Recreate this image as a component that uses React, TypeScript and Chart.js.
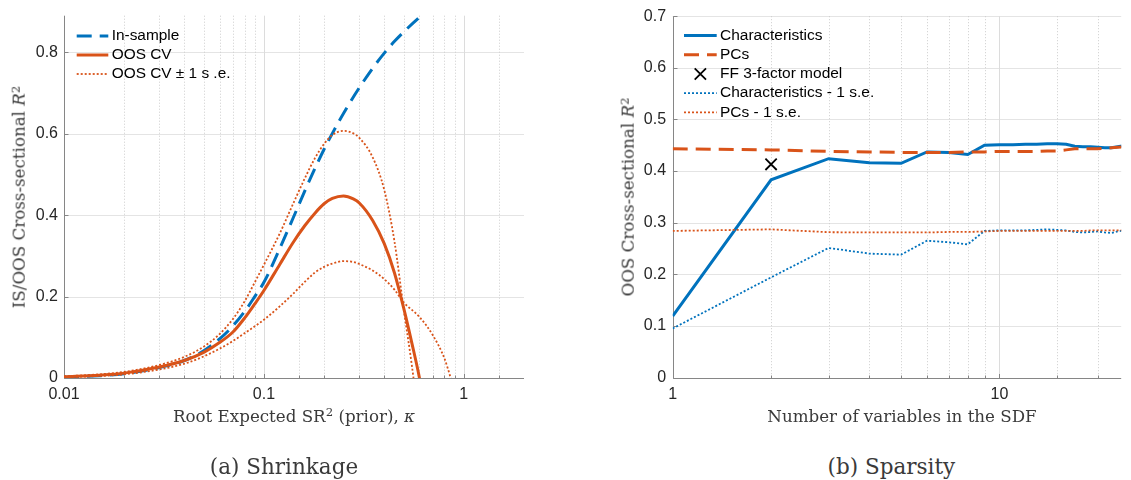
import React, { useEffect, useRef } from 'react';
import { Chart, registerables } from 'chart.js';

Chart.register(...registerables);

const BLUE = '#0072BD';
const ORANGE = '#D95319';

// ---- (a) Shrinkage: cross-sectional R² against the prior scale kappa ----
const inSampleKappa = [0.01, 0.015, 0.02, 0.03, 0.04, 0.05, 0.06, 0.07, 0.08, 0.09, 0.1, 0.12, 0.14, 0.16, 0.18, 0.2, 0.22, 0.25, 0.3, 0.35, 0.4, 0.45, 0.5, 0.6, 0.7, 0.8];
const inSampleR2 = [0.002, 0.0055, 0.0105, 0.0255, 0.043, 0.067, 0.096, 0.128, 0.163, 0.2, 0.235, 0.318, 0.393, 0.459, 0.515, 0.562, 0.601, 0.65, 0.713, 0.761, 0.798, 0.827, 0.85, 0.886, 0.913, 0.934];

const oosKappa = [0.01, 0.015, 0.02, 0.03, 0.04, 0.05, 0.06, 0.07, 0.08, 0.09, 0.1, 0.12, 0.14, 0.16, 0.18, 0.2, 0.22, 0.25, 0.28, 0.3, 0.35, 0.4, 0.45, 0.5, 0.55, 0.6, 0.65];
const oosR2 = [0.003, 0.007, 0.012, 0.027, 0.043, 0.063, 0.087, 0.113, 0.147, 0.182, 0.215, 0.279, 0.333, 0.374, 0.405, 0.428, 0.441, 0.447, 0.44, 0.43, 0.387, 0.33, 0.258, 0.172, 0.085, 0.0, -0.1];

const oosUpperKappa = [0.01, 0.015, 0.02, 0.03, 0.04, 0.05, 0.06, 0.07, 0.08, 0.09, 0.1, 0.12, 0.14, 0.16, 0.18, 0.2, 0.22, 0.25, 0.28, 0.3, 0.35, 0.4, 0.45, 0.5, 0.55, 0.6];
const oosUpperR2 = [0.004, 0.009, 0.015, 0.032, 0.052, 0.077, 0.108, 0.145, 0.188, 0.235, 0.278, 0.355, 0.428, 0.49, 0.54, 0.575, 0.597, 0.607, 0.601, 0.59, 0.542, 0.462, 0.335, 0.17, 0.03, -0.12];

const oosLowerKappa = [0.01, 0.015, 0.02, 0.03, 0.04, 0.05, 0.06, 0.07, 0.08, 0.09, 0.1, 0.12, 0.14, 0.16, 0.18, 0.2, 0.22, 0.25, 0.28, 0.3, 0.35, 0.4, 0.45, 0.5, 0.6, 0.7, 0.8, 0.86, 0.95];
const oosLowerR2 = [0.002, 0.005, 0.009, 0.021, 0.035, 0.053, 0.072, 0.091, 0.11, 0.127, 0.143, 0.176, 0.207, 0.236, 0.259, 0.273, 0.281, 0.287, 0.285, 0.28, 0.264, 0.243, 0.217, 0.186, 0.15, 0.105, 0.048, 0.0, -0.07];

const shrinkDecadeLabels = [0.01, 0.1, 1];

// ---- (b) Sparsity: OOS R² against the number of SDF variables ----
const numVars = [1, 2, 3, 4, 5, 6, 7, 8, 9, 10, 11, 12, 13, 14, 15, 16, 17, 18, 19, 20, 21, 22, 23, 24];
const charR2 = [0.119, 0.383, 0.424, 0.416, 0.415, 0.437, 0.436, 0.432, 0.45, 0.451, 0.451, 0.452, 0.452, 0.453, 0.453, 0.452, 0.448, 0.447, 0.447, 0.446, 0.445, 0.445, 0.447, 0.449];
const pcR2 = [0.443, 0.441, 0.438, 0.437, 0.436, 0.436, 0.436, 0.437, 0.437, 0.438, 0.438, 0.438, 0.438, 0.439, 0.439, 0.441, 0.443, 0.443, 0.443, 0.443, 0.444, 0.445, 0.446, 0.447];
const charLowerR2 = [0.095, 0.194, 0.251, 0.24, 0.238, 0.265, 0.262, 0.258, 0.284, 0.285, 0.285, 0.285, 0.286, 0.287, 0.286, 0.285, 0.282, 0.281, 0.282, 0.283, 0.281, 0.28, 0.283, 0.285];
const pcLowerR2 = [0.284, 0.287, 0.2815, 0.281, 0.281, 0.281, 0.282, 0.282, 0.283, 0.284, 0.284, 0.284, 0.284, 0.284, 0.284, 0.284, 0.284, 0.284, 0.285, 0.285, 0.285, 0.285, 0.285, 0.285];
const ffVars = [2];
const ffR2 = [0.413];

const sparsityDecadeLabels = [1, 10];

const pts = (xs: number[], ys: number[]) => xs.map((x, i) => ({ x, y: ys[i] }));
const isDecade = (v: number) => {
  const l = Math.log10(v);
  return Math.abs(l - Math.round(l)) < 1e-6;
};

const TICK_FONT = { family: '"Liberation Sans", Arial, Helvetica, sans-serif', size: 16 };
const NO_GRID = { display: false, drawTicks: false };

// MATLAB-style frame: light grid (dotted minor log grid), left/bottom axis lines, inward ticks
const axesFramePlugin = {
  id: 'axesFrame',
  beforeDatasetsDraw(chart: any) {
    const { ctx, chartArea: a } = chart;
    const xs = chart.scales.x;
    const ys = chart.scales.y;
    ctx.save();
    ctx.lineWidth = 1;
    ctx.strokeStyle = '#e4e4e4';
    for (const t of ys.ticks) {
      const y = Math.round(ys.getPixelForValue(t.value)) + 0.5;
      if (y >= a.bottom - 1 || y < a.top) continue;
      ctx.beginPath();
      ctx.moveTo(a.left, y);
      ctx.lineTo(a.right, y);
      ctx.stroke();
    }
    for (const t of xs.ticks) {
      const x = Math.round(xs.getPixelForValue(t.value)) + 0.5;
      if (x <= a.left + 1 || x >= a.right - 1) continue;
      const major = isDecade(t.value);
      ctx.setLineDash(major ? [] : [1, 2]);
      ctx.strokeStyle = major ? '#dcdcdc' : '#cdcdcd';
      ctx.beginPath();
      ctx.moveTo(x, a.top);
      ctx.lineTo(x, a.bottom);
      ctx.stroke();
    }
    ctx.setLineDash([]);
    ctx.strokeStyle = '#868686';
    const L = Math.round(a.left) + 0.5;
    const B = Math.round(a.bottom) + 0.5;
    ctx.beginPath();
    ctx.moveTo(L, a.top);
    ctx.lineTo(L, B);
    ctx.lineTo(a.right, B);
    ctx.stroke();
    for (const t of ys.ticks) {
      const y = Math.round(ys.getPixelForValue(t.value)) + 0.5;
      ctx.beginPath();
      ctx.moveTo(L, y);
      ctx.lineTo(L + 4, y);
      ctx.stroke();
    }
    for (const t of xs.ticks) {
      const x = Math.round(xs.getPixelForValue(t.value)) + 0.5;
      if (x >= a.right - 1) continue;
      const len = isDecade(t.value) ? 4.5 : 3;
      ctx.beginPath();
      ctx.moveTo(x, B);
      ctx.lineTo(x, B - len);
      ctx.stroke();
    }
    ctx.restore();
  },
};

// Borderless legend drawn inside the plot area from the datasets' own styles
const insetLegendPlugin = {
  id: 'insetLegend',
  afterDatasetsDraw(chart: any, _args: any, opts: any) {
    const { ctx, chartArea: a } = chart;
    ctx.save();
    ctx.font = `${opts.fontSize}px "Liberation Sans", Arial, Helvetica, sans-serif`;
    ctx.textBaseline = 'middle';
    ctx.textAlign = 'left';
    opts.items.forEach((idx: number, row: number) => {
      const ds = chart.data.datasets[idx];
      const y = a.top + opts.top + row * opts.rowGap;
      const x0 = a.left + opts.lineStart;
      const x1 = a.left + opts.lineEnd;
      if (ds.showLine === false) {
        const cx = (x0 + x1) / 2;
        const d = ds.pointRadius * Math.SQRT1_2;
        ctx.setLineDash([]);
        ctx.strokeStyle = ds.pointBorderColor;
        ctx.lineWidth = ds.pointBorderWidth;
        ctx.beginPath();
        ctx.moveTo(cx - d, y - d);
        ctx.lineTo(cx + d, y + d);
        ctx.moveTo(cx - d, y + d);
        ctx.lineTo(cx + d, y - d);
        ctx.stroke();
      } else {
        ctx.setLineDash(ds.borderDash || []);
        ctx.strokeStyle = ds.borderColor;
        ctx.lineWidth = ds.borderWidth;
        ctx.beginPath();
        ctx.moveTo(x0, y);
        ctx.lineTo(x1, y);
        ctx.stroke();
      }
      ctx.fillStyle = '#000';
      ctx.fillText(ds.label, a.left + opts.textStart, y);
    });
    ctx.restore();
  },
};

const decadeCallback = (labels: number[]) => (value: any) => {
  const v = Number(value);
  return labels.some((l) => Math.abs(l - v) < 1e-9) ? String(v) : '';
};

const CANVAS_H = 430;

function shrinkageConfig(): any {
  return {
    type: 'line',
    data: {
      datasets: [
        { label: 'In-sample', data: pts(inSampleKappa, inSampleR2), borderColor: BLUE, borderWidth: 3, borderDash: [15, 8], order: 0 },
        { label: 'OOS CV', data: pts(oosKappa, oosR2), borderColor: ORANGE, borderWidth: 3, order: -1 },
        { label: 'OOS CV ± 1 s .e.', data: pts(oosUpperKappa, oosUpperR2), borderColor: ORANGE, borderWidth: 1.8, borderDash: [2, 2], order: -2 },
        { label: 'OOS CV − 1 s .e.', data: pts(oosLowerKappa, oosLowerR2), borderColor: ORANGE, borderWidth: 1.8, borderDash: [2, 2], order: -3 },
      ],
    },
    options: {
      responsive: false,
      animation: false,
      devicePixelRatio: 1,
      layout: { padding: { left: 0, right: 16, top: 15.7, bottom: 0 } },
      elements: { point: { radius: 0 }, line: { cubicInterpolationMode: 'monotone', fill: false } },
      scales: {
        x: {
          type: 'logarithmic',
          min: 0.01,
          max: 2,
          grid: NO_GRID,
          border: { display: false },
          ticks: { autoSkip: false, maxRotation: 0, minRotation: 0, padding: 7, font: TICK_FONT, color: '#262626', callback: decadeCallback(shrinkDecadeLabels) },
          afterFit: (s: any) => { s.height = CANVAS_H - 378; },
        },
        y: {
          type: 'linear',
          min: 0,
          max: 0.89,
          grid: NO_GRID,
          border: { display: false },
          ticks: { stepSize: 0.2, includeBounds: false, padding: 6, font: TICK_FONT, color: '#262626', callback: (v: any) => String(Math.round(Number(v) * 10) / 10) },
          afterFit: (s: any) => { s.width = 64; },
        },
      },
      plugins: {
        legend: { display: false },
        tooltip: { enabled: false },
        insetLegend: { items: [0, 1, 2], top: 20.3, rowGap: 19, lineStart: 12.7, lineEnd: 44.3, textStart: 47.7, fontSize: 15.4 },
      },
    },
    plugins: [axesFramePlugin, insetLegendPlugin],
  };
}

function sparsityConfig(): any {
  return {
    type: 'line',
    data: {
      datasets: [
        { label: 'Characteristics', data: pts(numVars, charR2), borderColor: BLUE, borderWidth: 3, order: 0 },
        { label: 'PCs', data: pts(numVars, pcR2), borderColor: ORANGE, borderWidth: 3, borderDash: [15, 8], order: -1 },
        { label: 'FF 3-factor model', data: pts(ffVars, ffR2), showLine: false, pointStyle: 'crossRot', pointRadius: 8, pointBorderColor: '#000', pointBorderWidth: 1.8, borderColor: '#000', order: -4 },
        { label: 'Characteristics - 1 s.e.', data: pts(numVars, charLowerR2), borderColor: BLUE, borderWidth: 1.8, borderDash: [2, 2], order: -2 },
        { label: 'PCs - 1 s.e.', data: pts(numVars, pcLowerR2), borderColor: ORANGE, borderWidth: 1.8, borderDash: [2, 2], order: -3 },
      ],
    },
    options: {
      responsive: false,
      animation: false,
      devicePixelRatio: 1,
      layout: { padding: { left: 0, right: 0, top: 15.6, bottom: 0 } },
      elements: { point: { radius: 0 }, line: { tension: 0, fill: false } },
      scales: {
        x: {
          type: 'logarithmic',
          min: 1,
          max: 23.58,
          grid: NO_GRID,
          border: { display: false },
          ticks: { autoSkip: false, maxRotation: 0, minRotation: 0, padding: 7, font: TICK_FONT, color: '#262626', callback: decadeCallback(sparsityDecadeLabels) },
          afterFit: (s: any) => { s.height = CANVAS_H - 377.5; },
        },
        y: {
          type: 'linear',
          min: 0,
          max: 0.7,
          grid: NO_GRID,
          border: { display: false },
          ticks: { stepSize: 0.1, padding: 6.6, font: TICK_FONT, color: '#262626', callback: (v: any) => String(Math.round(Number(v) * 10) / 10) },
          afterFit: (s: any) => { s.width = 112.7; },
        },
      },
      plugins: {
        legend: { display: false },
        tooltip: { enabled: false },
        insetLegend: { items: [0, 1, 2, 3, 4], top: 19.4, rowGap: 19.2, lineStart: 11.3, lineEnd: 44, textStart: 47.3, fontSize: 15.5 },
      },
    },
    plugins: [axesFramePlugin, insetLegendPlugin],
  };
}

function ChartCanvas({ make, left, width, height }: { make: () => any; left: number; width: number; height: number }) {
  const ref = useRef<HTMLCanvasElement>(null);
  useEffect(() => {
    const chart = new Chart(ref.current as HTMLCanvasElement, make());
    return () => chart.destroy();
  }, [make]);
  return <canvas ref={ref} width={width} height={height} style={{ position: 'absolute', left, top: 0, width, height }} />;
}

const SERIF = '"DejaVu Serif", "Liberation Serif", serif';

function Label({ cx, cy, size, rotate, children }: { cx: number; cy: number; size: number; rotate?: boolean; children: React.ReactNode }) {
  return (
    <div
      style={{
        position: 'absolute',
        left: cx,
        top: cy,
        transform: `translate(-50%, -50%)${rotate ? ' rotate(-90deg)' : ''}`,
        fontFamily: SERIF,
        fontSize: size,
        color: '#3a3a3a',
        whiteSpace: 'nowrap',
        lineHeight: 1,
      }}
    >
      {children}
    </div>
  );
}

const supStyle: React.CSSProperties = { fontSize: '0.7em', verticalAlign: '0.45em', lineHeight: 0 };

export default function App() {
  return (
    <div style={{ position: 'absolute', left: 0, top: 0, width: 1131, height: 480, background: '#fff', overflow: 'hidden' }}>
      <ChartCanvas make={shrinkageConfig} left={0} width={540} height={CANVAS_H} />
      <ChartCanvas make={sparsityConfig} left={560} width={571} height={CANVAS_H} />
      <Label cx={19.2} cy={196.8} size={16.7} rotate>
        IS/OOS Cross-sectional <i>R</i><span style={supStyle}>2</span>
      </Label>
      <Label cx={294} cy={416} size={16.7}>
        Root Expected SR<span style={supStyle}>2</span> (prior), <i>κ</i>
      </Label>
      <Label cx={284} cy={466.7} size={21.5}>(a) Shrinkage</Label>
      <Label cx={627.9} cy={196.7} size={16.7} rotate>
        OOS Cross-sectional <i>R</i><span style={supStyle}>2</span>
      </Label>
      <Label cx={902} cy={416} size={16.7}>Number of variables in the SDF</Label>
      <Label cx={891.4} cy={466.7} size={21.5}>(b) Sparsity</Label>
    </div>
  );
}
